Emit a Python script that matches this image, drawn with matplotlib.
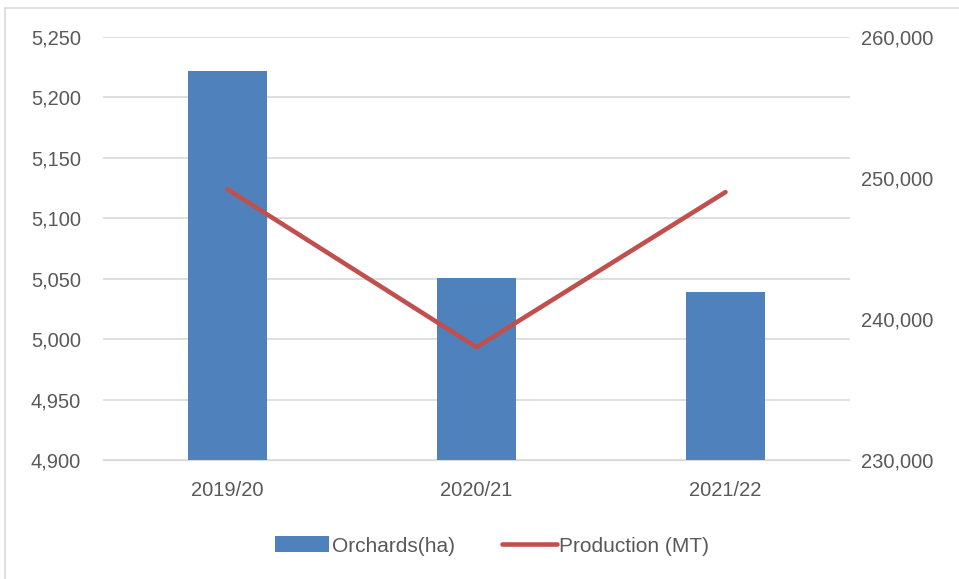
import matplotlib
matplotlib.use('Agg')
import matplotlib.pyplot as plt
from matplotlib.ticker import FuncFormatter
import numpy as np

# data
seasons = ['2019/20', '2020/21', '2021/22']
orchards_ha = [5222, 5051, 5039]
production_mt = [249200, 238000, 249000]

plt.rcParams['font.family'] = ['Liberation Sans', 'DejaVu Sans']
text_col = '#595959'

fig = plt.figure(figsize=(9.59, 5.79), dpi=100)
ax = fig.add_axes([103/959, 1 - 460/579, (850-103)/959, (460-37)/579])
ax2 = ax.twinx()

x = np.arange(len(seasons))
ax.bar(x, orchards_ha, width=0.315, color='#4F81BD', label='Orchards(ha)', zorder=2)
ax2.plot(x, production_mt, color='#C0504D', lw=3.3, solid_capstyle='round',
         label='Production (MT)', zorder=3)

ax.set_xlim(-0.5, 2.5)
ax.set_ylim(4900, 5250)
ax.set_yticks(np.arange(4900, 5251, 50))
ax2.set_ylim(230000, 260000)
ax2.set_yticks([230000, 240000, 250000, 260000])

fmt = FuncFormatter(lambda v, p: f'{v:,.0f}')
ax.yaxis.set_major_formatter(fmt)
ax2.yaxis.set_major_formatter(fmt)

ax.set_xticks(x)
ax.set_xticklabels(seasons)
ax.grid(axis='y', color='#D9D9D9', lw=1.2, zorder=0)
ax.set_axisbelow(True)

for a in (ax, ax2):
    for s in a.spines.values():
        s.set_visible(False)
    a.tick_params(length=0, labelsize=14.5, colors=text_col)
ax.spines['bottom'].set_visible(True)
ax.spines['bottom'].set_color('#D9D9D9')
ax.tick_params(axis='y', pad=16)
ax.tick_params(axis='x', pad=15)
ax2.tick_params(axis='y', pad=8)

# outer chart frame (only left and top edges are visible in the crop)
fig.add_artist(plt.Line2D([5/959, 5/959], [0, 1 - 8/579], color='#D9D9D9', lw=1.2))
fig.add_artist(plt.Line2D([5/959, 1], [1 - 8/579, 1 - 8/579], color='#D9D9D9', lw=1.2))

h1, l1 = ax.get_legend_handles_labels()
h2, l2 = ax2.get_legend_handles_labels()
fig.legend(h1 + h2, l1 + l2, loc='center', bbox_to_anchor=(492/959, 1 - 546/579),
           ncol=2, frameon=False, fontsize=15, labelcolor=text_col,
           handlelength=2.6, handleheight=0.8, handletextpad=0.1, columnspacing=2.3)

fig.savefig('out.png', dpi=100)
